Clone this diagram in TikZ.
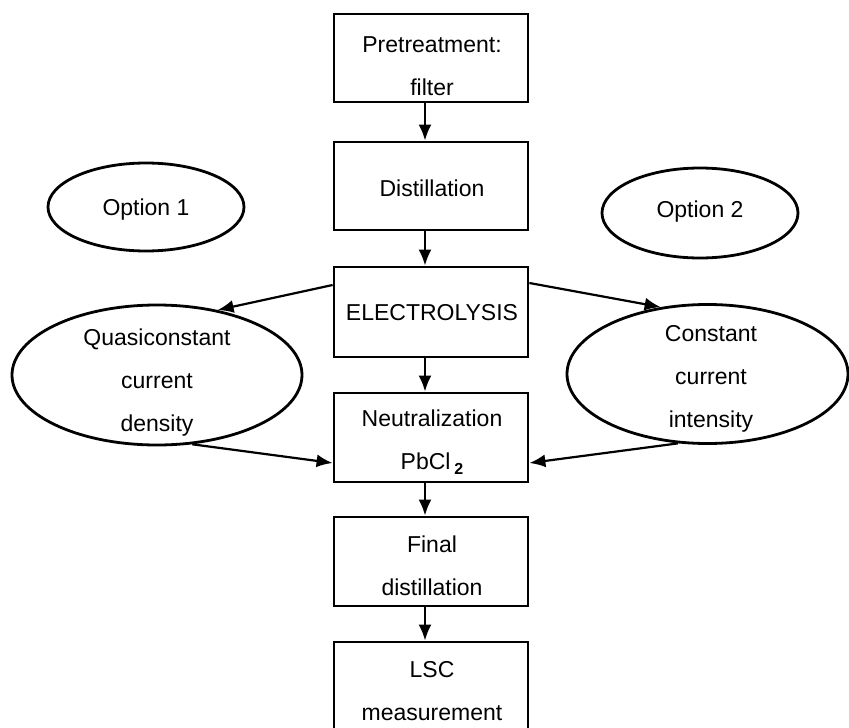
\documentclass[tikz,border=0pt]{standalone}
\usepackage{fontspec}
\setmainfont{Liberation Sans}
\usetikzlibrary{shapes.geometric,arrows.meta,calc}
\begin{document}
\begin{tikzpicture}[x=1pt,y=-1pt,
  stepbox/.style={draw,line width=2.8pt,minimum width=194pt,inner sep=0pt},
  oval/.style={draw,ellipse,line width=2.8pt,inner sep=0pt},
  lbl/.style={font=\fontsize{23}{43}\selectfont,align=center,inner sep=0pt},
  arr/.style={line width=2.2pt,-{Latex[length=16pt,width=13pt]}}]
\useasboundingbox (0,0) rectangle (849,728);
\clip (0,0) rectangle (849,728);
% boxes
\node[stepbox,minimum height=88pt] (pre) at (431,58) {};
\node[stepbox,minimum height=88pt] (dist) at (431,186) {};
\node[stepbox,minimum height=90pt] (elec) at (431,312) {};
\node[stepbox,minimum height=89pt] (neut) at (431,437.5) {};
\node[stepbox,minimum height=89pt] (fin) at (431,561.5) {};
\node[stepbox,minimum height=100pt] (lsc) at (431,692) {};
% ellipses
\node[oval,minimum width=196pt,minimum height=88pt] (opt1) at (146,207) {};
\node[oval,minimum width=196pt,minimum height=90pt] (opt2) at (700,213) {};
\node[oval,minimum width=290pt,minimum height=140pt] (quasi) at (157,375) {};
\node[oval,minimum width=281pt,minimum height=139pt] (const) at (707.5,374) {};
% texts
\node[lbl] (preT) at (432,66) {Pretreatment:\\filter};
\node[lbl] (distT) at (432,188) {Distillation};
\node[lbl] (elecT) at (432,313) {ELECTROLYSIS};
\node[lbl] (neutT) at (432,442) {Neutralization\\PbCl\,\raisebox{-5pt}{\fontsize{16}{16}\selectfont\bfseries 2}};
\node[lbl] (finT) at (432,566) {Final\\distillation};
\node[lbl] (lscT) at (432,691) {LSC\\measurement};
\node[lbl] (opt1T) at (146,210) {Option 1};
\node[lbl] (opt2T) at (700,212) {Option 2};
\node[lbl] (quasiT) at (157,383) {Quasiconstant\\current\\density};
\node[lbl] (constT) at (711,379) {Constant\\current\\intensity};
% vertical arrows
\coordinate (ax) at (425,0);
\draw[arr] (pre.south -| ax) -- (dist.north -| ax);
\draw[arr] (dist.south -| ax) -- (elec.north -| ax);
\draw[arr] (elec.south -| ax) -- (neut.north -| ax);
\draw[arr] (neut.south -| ax) -- (fin.north -| ax);
\draw[arr] (fin.south -| ax) -- (lsc.north -| ax);
% side arrows
\draw[arr] ([yshift=27pt]elec.west) -- (quasi.47);
\draw[arr] ([yshift=29pt]elec.east) -- (const.125);
\draw[arr] (quasi.-63) -- ([yshift=-25.5pt]neut.west);
\draw[arr] (const.247) -- ([yshift=-25.5pt]neut.east);
\end{tikzpicture}
\end{document}
